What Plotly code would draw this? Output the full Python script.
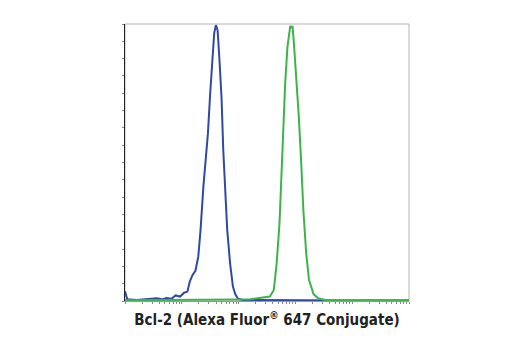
import plotly.graph_objects as go

# Fluorescence intensity (log10 units) and % of max for each histogram
blue_log = [0.0, 0.01, 0.04, 0.21, 0.38, 0.56, 0.65, 0.73, 0.82, 0.89, 0.97, 1.04, 1.10, 1.14, 1.19,
            1.24, 1.29, 1.33, 1.38, 1.43, 1.46, 1.50, 1.54, 1.57, 1.60, 1.63, 1.66, 1.70, 1.73,
            1.77, 1.80, 1.85, 1.90, 1.94, 1.99, 2.08, 2.5, 3.0, 3.5, 4.0, 5.0]
blue_val = [3.5, 2.8, 0.6, 0.4, 0.6, 1.0, 0.6, 1.1, 0.8, 2.0, 1.6, 3.0, 3.4, 7.0, 9.4,
            10.9, 16.0, 25.6, 41.3, 52.1, 60.5, 75.0, 88.2, 96.6, 99.6, 97.8, 88.2, 73.2, 54.5,
            35.3, 25.6, 13.6, 5.2, 2.5, 0.8, 0.4, 0.3, 0.3, 0.2, 0.2, 0.2]

green_log = [0.0, 1.0, 2.0, 2.20, 2.43, 2.55, 2.62, 2.67, 2.72, 2.76, 2.79, 2.82, 2.86, 2.89, 2.91,
             2.93, 2.95, 2.97, 3.01, 3.06, 3.10, 3.14, 3.19, 3.24, 3.32, 3.40, 3.52, 4.0, 5.0]
green_val = [0.3, 0.3, 0.5, 0.6, 1.1, 1.6, 4.0, 13.6, 28.0, 48.5, 64.1, 78.6, 91.8, 97.8, 99.3,
             98.8, 99.0, 94.2, 83.4, 66.5, 50.9, 32.9, 17.2, 7.6, 2.5, 1.0, 0.4, 0.3, 0.3]

decades = [1, 10, 100, 1000, 10000]
minor_mult = [1, 2, 3, 4, 5, 6, 7, 8, 9]
x_ticks = [d * m for d in decades for m in minor_mult] + [100000]
y_ticks = [i * 6.25 for i in range(17)]

x_title = "Bcl-2 (Alexa Fluor<sup>®</sup> 647 Conjugate)"

fig = go.Figure()
fig.add_trace(go.Scatter(x=[10 ** v for v in blue_log], y=blue_val, mode="lines",
                         line=dict(color="#2f4aa6", width=2), showlegend=False))
fig.add_trace(go.Scatter(x=[10 ** v for v in green_log], y=green_val, mode="lines",
                         line=dict(color="#3cb44a", width=2), showlegend=False))

fig.update_layout(
    width=520, height=350,
    margin=dict(l=125, r=111, t=24, b=49),
    paper_bgcolor="white", plot_bgcolor="white",
    shapes=[dict(type="rect", xref="paper", yref="paper", x0=0, y0=0, x1=1, y1=1,
                 line=dict(color="#b4b4b4", width=1), layer="below")],
    xaxis=dict(type="log", range=[0, 5], tickvals=x_ticks, showticklabels=False,
               ticks="outside", ticklen=2, tickcolor="#888888", showgrid=False, zeroline=False,
               showline=True, linecolor="#9a9a9a", linewidth=1,
               title=dict(text=x_title, standoff=11,
                          font=dict(family="DejaVu Sans Condensed",
                                    size=15, color="#222222", weight="bold"))),
    yaxis=dict(range=[0, 100], tickvals=y_ticks, showticklabels=False,
               ticks="outside", ticklen=2, tickcolor="#888888", showgrid=False, zeroline=False,
               showline=True, linecolor="#222222", linewidth=1),
)

fig.write_html("out.html")
